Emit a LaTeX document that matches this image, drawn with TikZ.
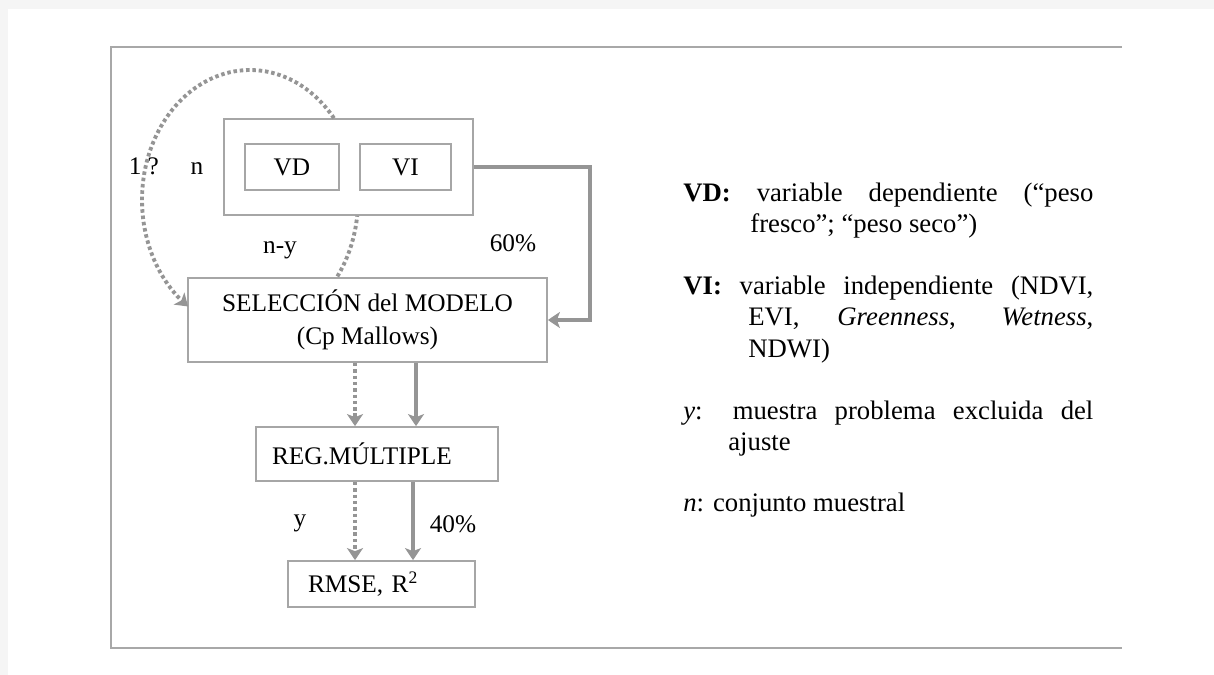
\documentclass[tikz,border=0pt]{standalone}
\usepackage{fontspec}
\setmainfont{Liberation Serif}
\usetikzlibrary{arrows.meta}
\definecolor{framegray}{HTML}{A8A8A8}
\definecolor{boxgray}{HTML}{A6A6A6}
\definecolor{flowgray}{HTML}{959595}

\begin{document}
\begin{tikzpicture}[x=0.2mm, y=-0.2mm, line cap=butt,
    every node/.style={font=\fontsize{14.4}{18.5}\selectfont},
    caja/.style={draw=boxgray, line width=1pt, fill=white, inner sep=0pt},
    flujo/.style={draw=flowgray, line width=1.9pt,
                  -{Stealth[length=2.4mm, width=3.2mm, inset=0.6mm]}},
    punteado/.style={flujo, line width=2.2pt, dash pattern=on 2pt off 1.6pt},
    leyenda/.style={anchor=base west, text width=82mm, align=justify, inner sep=0pt,
                    font=\fontsize{15.2}{18}\selectfont}]
  \useasboundingbox (0,0) rectangle (1214,675);

  % ---- page edge and open frame ---------------------------------------------
  \fill[black!4] (0,0) rectangle (1214,9);
  \fill[black!4] (0,0) rectangle (8,675);
  \draw[framegray, line width=1.1pt] (1122,47) -- (111,47) -- (111,648) -- (1122,648);

  % ---- boxes of the flow --------------------------------------------------
  \node[caja, minimum width=49.8mm, minimum height=19.2mm] (datos) at (348.5,167) {};
  \node[caja, minimum width=18.8mm, minimum height=9.2mm] (vd) at (292,167) {VD};
  \node[caja, minimum width=18.2mm, minimum height=9.2mm] (vi) at (405.5,167) {VI};
  \node[caja, minimum width=71.8mm, minimum height=16.8mm, align=center] (sel)
    at (367.5,320) {SELECCIÓN del MODELO\\(Cp Mallows)};
  \node[caja, text width=42mm, inner xsep=3.2mm, minimum height=10.8mm, align=left] (reg)
    at (377,454) {REG.MÚLTIPLE};
  \node[caja, text width=29.4mm, inner xsep=4mm, minimum height=9.2mm, align=left] (rmse)
    at (381.5,584) {RMSE, R\textsuperscript{2}};

  % ---- labels beside the arrows -------------------------------------------
  \node (iter) at (166,166) {1 ?\hspace{18pt}n};
  \node (ny) at (280,250) {n-y};
  \node (p60) at (513,243) {60\%};
  \node (ye) at (300,523) {y};
  \node (p40) at (453,524) {40\%};

  % ---- arrows ---------------------------------------------------------------
  \coordinate (lineaA) at (355,0);
  \coordinate (lineaB) at (416,0);
  \coordinate (lineaC) at (413,0);
  \draw[flujo] (datos.east) -- ++(116,0) |- (sel.east);
  \draw[punteado] (lineaA |- sel.south) -- (lineaA |- reg.north);
  \draw[flujo] (lineaB |- sel.south) -- (lineaB |- reg.north);
  \draw[punteado] (lineaA |- reg.south) -- (lineaA |- rmse.north);
  \draw[flujo] (lineaC |- reg.south) -- (lineaC |- rmse.north);

  % dotted loop round the sample (partly hidden by the boxes)
  \draw[punteado] plot[domain=39:235, samples=80] ({250+108*cos(\x)}, {200-130*sin(\x)});
  \draw[punteado, -] plot[domain=-36:-7, samples=20] ({250+108*cos(\x)}, {200-130*sin(\x)});

  % ---- legend -----------------------------------------------------------------
  \node[leyenda] (leyvd) at (683,201) {\hangindent=13.4mm\hangafter=1
    \textbf{VD:} variable dependiente (“peso\linebreak fresco”; “peso seco”)\par};
  \node[leyenda] (leyvi) at (683,294) {\hangindent=13mm\hangafter=1
    \textbf{VI:} variable independiente (NDVI,\linebreak EVI, \textit{Greenness}, \textit{Wetness},\linebreak NDWI)\par};
  \node[leyenda] (leyy) at (683,419) {\hangindent=9mm\hangafter=1
    \textit{y}: muestra problema excluida del\linebreak ajuste\par};
  \node[leyenda] (leyn) at (683,511) {\textit{n}: conjunto muestral\par};
\end{tikzpicture}
\end{document}
